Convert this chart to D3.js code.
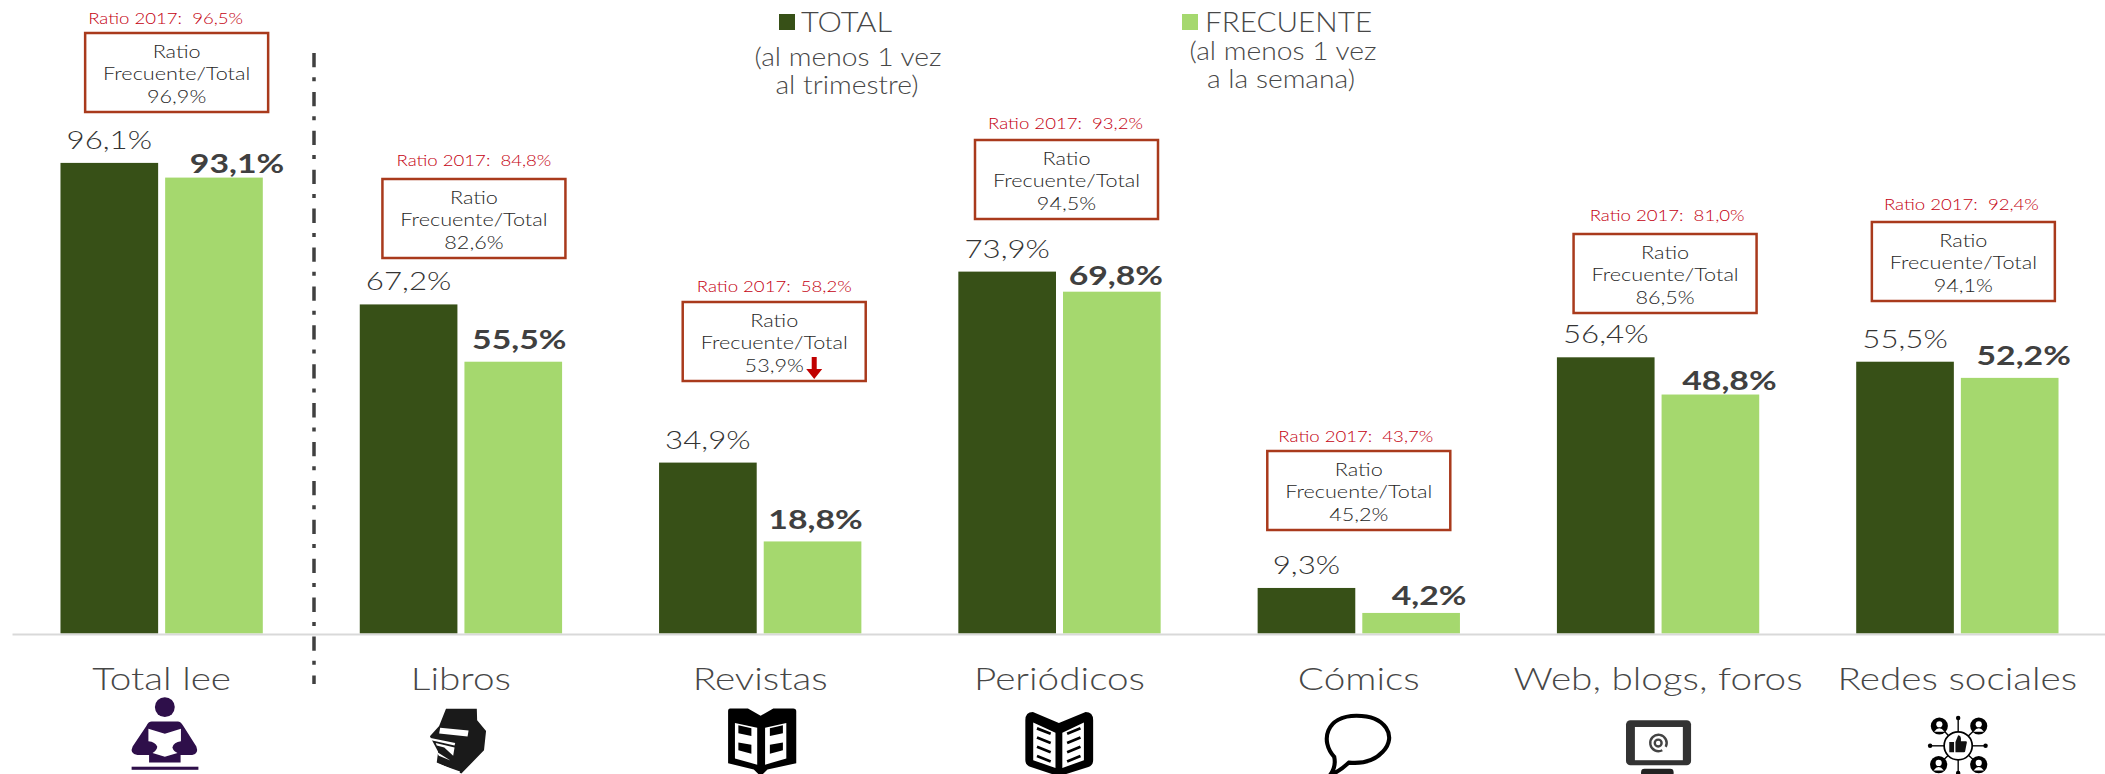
<!DOCTYPE html>
<html>
<head>
<meta charset="utf-8">
<style>
  html, body { margin: 0; padding: 0; background: #fff; }
  svg { display: block; }
  text { font-family: Lato, "Open Sans", sans-serif; }
</style>
<script src="https://cdn.jsdelivr.net/npm/d3@7"></script>
</head>
<body>
<div id="chart"></div>
<script>
// data
const categories = ['Total lee', 'Libros', 'Revistas', 'Periódicos', 'Cómics', 'Web, blogs, foros', 'Redes sociales'];
const totalValues = [96.1, 67.2, 34.9, 73.9, 9.3, 56.4, 55.5];
const frecuenteValues = [93.1, 55.5, 18.8, 69.8, 4.2, 48.8, 52.2];
const ratioValues = [96.9, 82.6, 53.9, 94.5, 45.2, 86.5, 94.1];
const ratio2017Values = [96.5, 84.8, 58.2, 93.2, 43.7, 81.0, 92.4];

// layout bits that don't follow from the values
const boxTops = [33, 179, 302, 140, 451, 234, 222];
const boxShift = [15, 13, 14, 7, 0, 7, 6];
const ratioShift = [-11, 0, 0, -1, -3, 2, -2];
const ratioGap = [9, 13, 10, 11, 9, 13, 12];
const boldShift = [23, 6, 3, 4, 18, 19, 14];
const boldGap = [5, 13, 12, 7, 8, 5, 13];
const iconShift = [-51.6, -50.9, -60.2, -59.5, -58.8, -58.1, -57.4];

const width = 2105, height = 774;
const baseY = 633.5;
const darkGreen = '#375017', lightGreen = '#a5d86e';
const boxW = 183, boxH = 79;

const fmt = (v) => v.toFixed(1).replace('.', ',') + '%';

const svg = d3.select('#chart').append('svg')
  .attr('width', width)
  .attr('height', height);

const x = d3.scaleBand().domain(categories).range([12, 2107]).paddingInner(0.324).paddingOuter(0.162);
const xSeries = d3.scaleBand().domain(['total', 'frecuente']).range([0, x.bandwidth()]).paddingInner(0.067);
const y = d3.scaleLinear().domain([0, 100]).range([baseY, baseY - 489.7]);
const center = (c) => x(c) + x.bandwidth() / 2;

// the reference is stretched sideways, so text gets a horizontal scale
function addText(parent, str, px, py, size, sx, fill, weight, anchor) {
  return parent.append('text')
    .attr('transform', 'translate(' + px + ',' + py + ') scale(' + sx + ',1)')
    .attr('text-anchor', anchor || 'middle')
    .attr('font-size', size)
    .attr('font-weight', weight || 400)
    .attr('fill', fill)
    .text(str);
}

// bars
svg.append('g').selectAll('rect')
  .data(categories.map((c, i) => ({c: c, v: totalValues[i]})))
  .join('rect')
    .attr('x', (d) => x(d.c) + xSeries('total'))
    .attr('y', (d) => y(d.v))
    .attr('width', xSeries.bandwidth())
    .attr('height', (d) => baseY - y(d.v))
    .attr('fill', darkGreen);

svg.append('g').selectAll('rect')
  .data(categories.map((c, i) => ({c: c, v: frecuenteValues[i]})))
  .join('rect')
    .attr('x', (d) => x(d.c) + xSeries('frecuente'))
    .attr('y', (d) => y(d.v))
    .attr('width', xSeries.bandwidth())
    .attr('height', (d) => baseY - y(d.v))
    .attr('fill', lightGreen);

// baseline axis, no ticks
const axis = svg.append('g')
  .attr('transform', 'translate(0,' + (baseY + 0.5) + ')')
  .call(d3.axisBottom(x).tickSize(0).tickFormat(''));
axis.select('.domain').attr('stroke', '#d9d9d9').attr('stroke-width', 2);

// divider
svg.append('line')
  .attr('x1', 314).attr('x2', 314)
  .attr('y1', 53).attr('y2', 684)
  .attr('stroke', '#404040')
  .attr('stroke-width', 3.5)
  .attr('stroke-dasharray', '14.3 10 4 10.6');

// labels
categories.forEach((c, i) => {
  const cx = center(c);
  addText(svg, c, cx, 690, 32, 1.21, '#474747', 300);

  addText(svg, fmt(totalValues[i]), x(c) + xSeries('total') + xSeries.bandwidth() / 2, y(totalValues[i]) - 14, 25, 1.25, '#333', 300);
  addText(svg, fmt(frecuenteValues[i]), x(c) + xSeries('frecuente') + xSeries.bandwidth() / 2 + boldShift[i], y(frecuenteValues[i]) - boldGap[i], 26, 1.3, '#404040', 700);

  const bx = cx + boxShift[i], by = boxTops[i];
  svg.append('rect')
    .attr('x', bx - boxW / 2).attr('y', by)
    .attr('width', boxW).attr('height', boxH)
    .attr('fill', '#fff')
    .attr('stroke', '#a93a1c')
    .attr('stroke-width', 2.5);
  addText(svg, 'Ratio 2017:  ' + fmt(ratio2017Values[i]), bx + ratioShift[i], by - ratioGap[i], 15.5, 1.2, '#c40010', 300).attr('xml:space', 'preserve');
  addText(svg, 'Ratio', bx, by + 25, 18.5, 1.17, '#262626', 300);
  addText(svg, 'Frecuente/Total', bx, by + 47, 18.5, 1.17, '#262626', 300);
  addText(svg, fmt(ratioValues[i]), bx, by + 70, 18.5, 1.17, '#262626', 300);
});

// little red arrow in the Revistas box
const ax = center('Revistas') + boxShift[2] + 40, ay = boxTops[2];
svg.append('path')
  .attr('transform', 'translate(' + ax + ',' + ay + ')')
  .attr('d', 'M-2.5,55 H2.5 V67 H8 L0,77 L-8,67 H-2.5 Z')
  .attr('fill', '#c00000');

// legend
svg.append('rect').attr('x', 779).attr('y', 14).attr('width', 16).attr('height', 16).attr('fill', darkGreen);
svg.append('rect').attr('x', 1182).attr('y', 14).attr('width', 16).attr('height', 16).attr('fill', lightGreen);
addText(svg, 'TOTAL', 801, 32, 28, 1.1, '#474747', 300, 'start');
addText(svg, 'FRECUENTE', 1205, 32, 28, 1.06, '#474747', 300, 'start');
addText(svg, '(al menos 1 vez', 848, 66, 25, 1.13, '#474747', 300);
addText(svg, 'al trimestre)', 847, 94, 25, 1.13, '#474747', 300);
addText(svg, '(al menos 1 vez', 1283, 60, 25, 1.13, '#474747', 300);
addText(svg, 'a la semana)', 1281, 88, 25, 1.13, '#474747', 300);

// icons, drawn in a 350x245 box that maps onto a 120x84 area under each label
function iconGroup(i) {
  return svg.append('g')
    .attr('transform', 'translate(' + (center(categories[i]) + iconShift[i]) + ',690) scale(' + (1 / 2.92) + ')');
}

// reader
let g = iconGroup(0);
g.append('circle').attr('cx', 160).attr('cy', 50).attr('r', 29).attr('fill', '#2e0f4a');
g.append('path').attr('fill', '#2e0f4a').attr('d', 'M122,92 H198 Q206,92 214,105 L252,165 Q260,186 240,190 L206,190 V212 H114 V190 L80,190 Q56,186 66,165 L106,105 Q112,92 122,92 Z');
g.append('path').attr('fill', '#fff').attr('d', 'M112,113 L160,128 L207,113 L207,150 Q186,152 182,168 Q186,180 197,184 L160,195 L124,184 Q136,178 138,166 Q132,152 112,150 Z');
g.append('rect').attr('x', 63).attr('y', 224).attr('width', 195).attr('height', 9).attr('fill', '#2e0f4a');

// stack of books
g = iconGroup(1);
g.append('path').attr('fill', '#1a1a1a').attr('d', 'M105,55 H195 L196,88 L222,120 L216,176 L150,244 L78,212 L82,180 L58,135 L85,105 Z');
g.append('path').attr('fill', '#fff').attr('d', 'M88,110 L171,118 L168,136 L85,127 Z');
g.append('path').attr('fill', '#fff').attr('d', 'M60,140 L132,155 L130,162 L62,147 Z M75,155 L130,168 L126,192 L100,168 L78,162 Z M78,180 L118,206 L84,192 Z M78,214 L146,238 L144,244 L78,220 Z');

// magazine
g = iconGroup(2);
g.append('path').attr('fill', '#000').attr('d', 'M88,54 H140 L177,75 L214,54 H272 Q281,54 281,62 V214 L197,232 L177,252 L157,232 L82,214 V62 Q82,54 88,54 Z');
g.append('path').attr('fill', '#fff').attr('d', 'M102,96 L167,110 V218 L102,200 Z M252,96 L190,110 V218 L252,200 Z');
g.append('path').attr('fill', '#000').attr('d', 'M112,103 L150,112 V134 L112,126 Z M112,153 L150,160 V186 L112,176 Z M242,103 L204,112 V134 L242,126 Z M242,153 L204,160 V186 L242,176 Z');

// newspaper
g = iconGroup(3);
g.append('path').attr('fill', '#000').attr('d', 'M74,88 Q74,64 96,64 L172,96 L250,64 Q272,64 272,88 V205 Q272,220 258,225 L172,252 L90,225 Q74,220 74,205 Z');
g.append('path').attr('fill', '#fff').attr('d', 'M97,95 L162,125 V228 L97,205 Z M245,95 L182,125 V228 L245,205 Z');
const lineRows = [0, 1, 2, 3];
g.selectAll('path.row').data(lineRows).join('path')
  .attr('class', 'row')
  .attr('fill', 'none').attr('stroke', '#000').attr('stroke-width', 8)
  .attr('d', (d) => {
    const dy = d * 27;
    return 'M108,' + (112 + dy) + ' L148,' + (128 + dy) + ' M235,' + (112 + dy) + ' L196,' + (128 + dy);
  });

// speech bubble
g = iconGroup(4);
g.append('path').attr('fill', 'none').attr('stroke', '#000').attr('stroke-width', 12)
  .attr('d', 'M100,195 C58,150 75,75 165,75 C250,75 285,135 242,180 C215,210 175,215 143,212 Q115,238 88,248 Q106,225 100,195 Z');

// monitor
g = iconGroup(5);
g.append('rect').attr('x', 76).attr('y', 88).attr('width', 190).attr('height', 132).attr('rx', 13).attr('fill', '#333');
g.append('rect').attr('x', 102).attr('y', 108).attr('width', 140).attr('height', 97).attr('fill', '#fff');
g.append('path').attr('fill', 'none').attr('stroke', '#444').attr('stroke-width', 7)
  .attr('d', 'M192,166 A24,24 0 1 0 182,176');
g.append('circle').attr('cx', 170).attr('cy', 155).attr('r', 10).attr('fill', 'none').attr('stroke', '#444').attr('stroke-width', 7);
g.append('rect').attr('x', 120).attr('y', 230).attr('width', 95).attr('height', 24).attr('rx', 10).attr('fill', '#222');

// social network
g = iconGroup(6);
const people = [[115, 105], [230, 105], [113, 218], [230, 218]];
const dots = [[170, 82], [88, 163], [250, 163], [170, 242]];
dots.forEach((d) => {
  g.append('line').attr('x1', 170).attr('y1', 163).attr('x2', d[0]).attr('y2', d[1]).attr('stroke', '#000').attr('stroke-width', 4);
  g.append('circle').attr('cx', d[0]).attr('cy', d[1]).attr('r', 6.5).attr('fill', '#000');
});
people.forEach((d) => {
  g.append('line').attr('x1', 170).attr('y1', 163).attr('x2', d[0]).attr('y2', d[1]).attr('stroke', '#000').attr('stroke-width', 4);
  g.append('circle').attr('cx', d[0]).attr('cy', d[1]).attr('r', 25).attr('fill', '#000');
  g.append('circle').attr('cx', d[0]).attr('cy', d[1] - 5).attr('r', 9).attr('fill', '#fff');
  g.append('path').attr('fill', '#fff').attr('d', 'M' + (d[0] - 15) + ',' + (d[1] + 17) + ' Q' + d[0] + ',' + (d[1] - 3) + ' ' + (d[0] + 15) + ',' + (d[1] + 17) + ' Z');
});
g.append('circle').attr('cx', 170).attr('cy', 163).attr('r', 41).attr('fill', '#fff').attr('stroke', '#000').attr('stroke-width', 5);
g.append('path').attr('fill', '#111').attr('d', 'M144,152 H158 V182 H144 Z M162,152 L170,132 Q180,132 178,150 H194 Q197,152 194,160 L190,180 Q188,182 184,182 H162 Z');
</script>
</body>
</html>
